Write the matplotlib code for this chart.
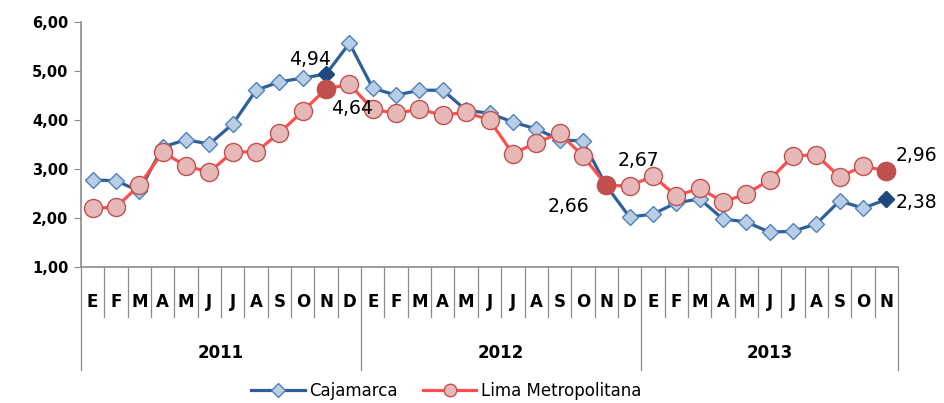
import numpy as np
import matplotlib; matplotlib.use("Agg")
import matplotlib.pyplot as plt
from matplotlib.lines import Line2D

BLUE = "#2F5F98"; BLUE_FACE = "#B9CDE5"; BLUE_EDGE = "#4F81BD"; BLUE_DARK = "#1F497D"
RED = "#FF4F4F"; RED_FACE = "#E6B9B8"; RED_EDGE = "#C0504D"; RED_DARK = "#C0504D"
GRAY = "#8C8C8C"

months = ["E", "F", "M", "A", "M", "J", "J", "A", "S", "O", "N", "D"]
years = ["2011", "2012", "2013"]
month_labels = months * 2 + months[:11]

cajamarca = [2.78, 2.76, 2.55, 3.45, 3.60, 3.51, 3.92, 4.61, 4.78, 4.86, 4.94, 5.57,
             4.65, 4.51, 4.61, 4.61, 4.20, 4.14, 3.96, 3.82, 3.60, 3.57, 2.66, 2.02,
             2.08, 2.31, 2.39, 1.98, 1.92, 1.71, 1.73, 1.88, 2.35, 2.20, 2.38]
lima = [2.20, 2.22, 2.67, 3.35, 3.06, 2.94, 3.35, 3.35, 3.74, 4.18, 4.64, 4.73,
        4.22, 4.14, 4.22, 4.10, 4.16, 4.00, 3.31, 3.54, 3.73, 3.27, 2.67, 2.65,
        2.86, 2.45, 2.61, 2.33, 2.49, 2.78, 3.27, 3.29, 2.84, 3.06, 2.96]

# highlighted points: (series, index, label, offset px, ha)
highlights = [("c", 10, "4,94", (-16, 15), "center"), ("l", 10, "4,64", (26, -20), "center"),
              ("l", 22, "2,67", (32, 25), "center"), ("c", 22, "2,66", (-38, -21), "center"),
              ("l", 34, "2,96", (9, 16), "left"), ("c", 34, "2,38", (9, -3), "left")]

fig = plt.figure(figsize=(9.44, 4.03), dpi=100)
ax = fig.add_axes([0.0858, 0.3375, 0.8655, 0.6075])
x = np.arange(len(cajamarca))

ax.plot(x, cajamarca, color=BLUE, lw=2.3, marker="D", ms=8.5, mfc=BLUE_FACE,
        mec=BLUE_EDGE, mew=1.0, zorder=3, label="Cajamarca")
ax.plot(x, lima, color=RED, lw=2.3, marker="o", ms=13, mfc=RED_FACE,
        mec=RED_EDGE, mew=1.0, zorder=4, label="Lima Metropolitana")

for s, i, txt, off, ha in highlights:
    if s == "c":
        y = cajamarca[i]
        ax.plot(x[i], y, marker="D", ms=8.5, color=BLUE_DARK, mec=BLUE_DARK, zorder=3.5)
    else:
        y = lima[i]
        ax.plot(x[i], y, marker="o", ms=13, color=RED_DARK, mec=RED_DARK, zorder=4.5)
    ax.annotate(txt, (x[i], y), xytext=off, textcoords="offset pixels",
                ha=ha, va="center", fontsize=13.5, color="black", zorder=6,
                annotation_clip=False)

ax.set_xlim(-0.5, len(x) - 0.5)
ax.set_ylim(1, 6)
ax.set_yticks(np.arange(1, 7))
ax.set_yticklabels([f"{v:.2f}".replace(".", ",") for v in np.arange(1, 7)],
                   fontsize=10.5, fontweight="bold")
ax.tick_params(axis="y", length=5, color=GRAY, pad=4)
ax.set_xticks([])
for sp in ["top", "right"]:
    ax.spines[sp].set_visible(False)
for sp in ["left", "bottom"]:
    ax.spines[sp].set_color(GRAY)
    ax.spines[sp].set_linewidth(1.2)

trans = ax.get_xaxis_transform()
for k in range(len(x) + 1):
    xb = k - 0.5
    low = -0.42 if k % 12 == 0 or k == len(x) else -0.204
    ax.plot([xb, xb], [0, low], transform=trans, color=GRAY, lw=0.9, clip_on=False)
for i, m in enumerate(month_labels):
    ax.text(i, -0.143, m, transform=trans, ha="center", va="center",
            fontsize=12, fontweight="bold")
for j, yr in enumerate(years):
    n = min(12, len(x) - 12 * j)
    ax.text(12 * j + (n - 1) / 2, -0.35, yr, transform=trans, ha="center",
            va="center", fontsize=12, fontweight="bold")

handles = [Line2D([], [], color=BLUE, lw=2.3, marker="D", ms=7, mfc=BLUE_FACE, mec=BLUE_EDGE),
           Line2D([], [], color=RED, lw=2.3, marker="o", ms=9, mfc=RED_FACE, mec=RED_EDGE)]
fig.legend(handles, ["Cajamarca", "Lima Metropolitana"], loc="center",
           bbox_to_anchor=(0.473, 0.03), ncol=2, frameon=False, fontsize=12,
           handlelength=3.2, columnspacing=1.5, handletextpad=0.3)

fig.savefig("out.png", dpi=100)
